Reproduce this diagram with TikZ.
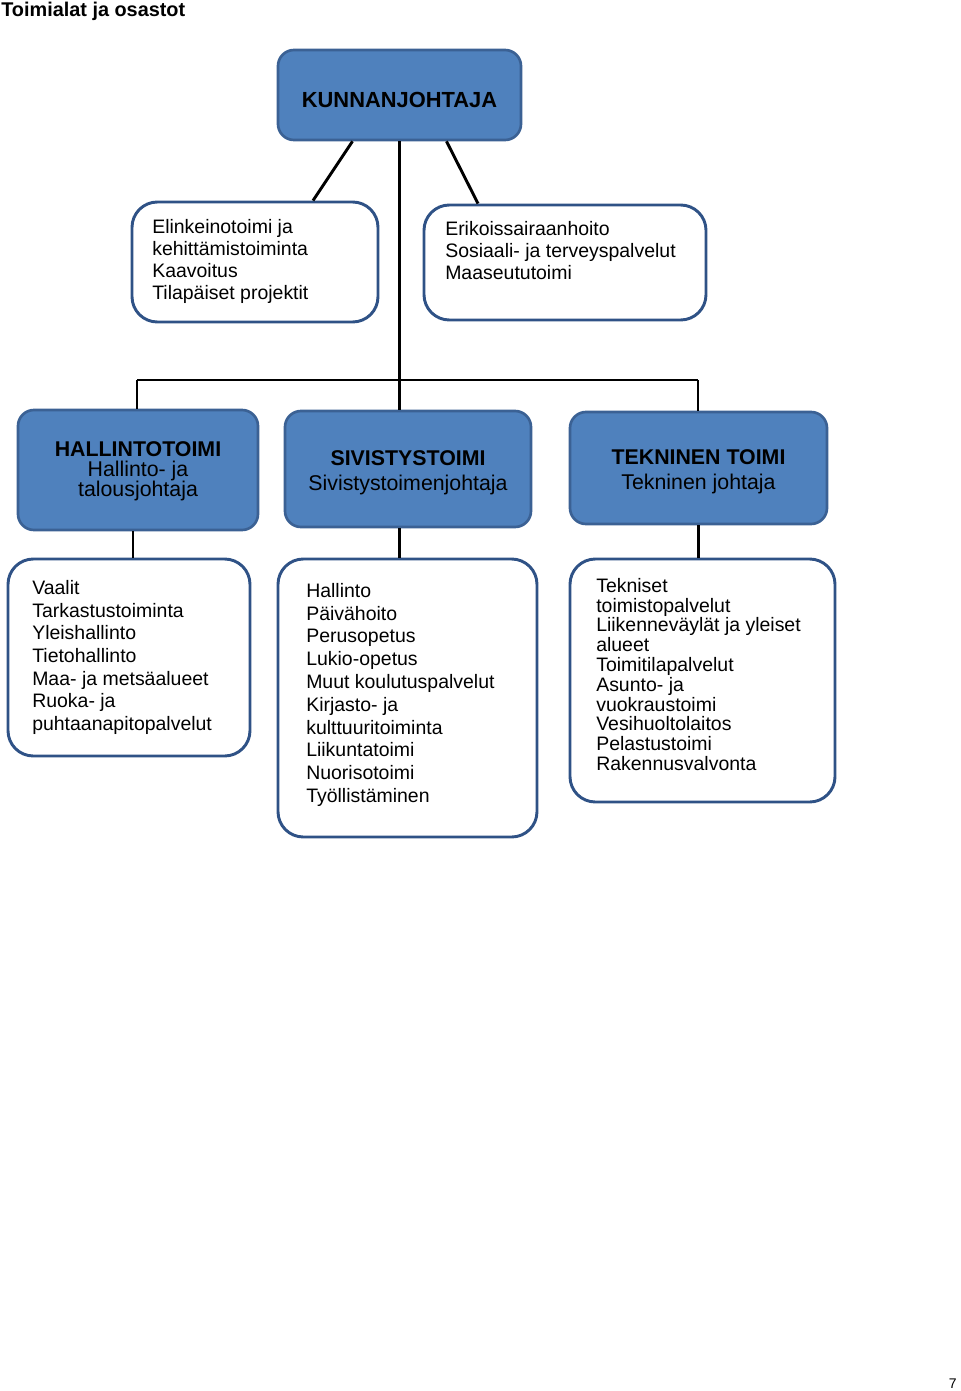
\documentclass[tikz,border=0pt]{standalone}
\usepackage{fontspec}
\setmainfont{Liberation Sans}
\usetikzlibrary{calc,fit}
\definecolor{boxblue}{HTML}{4F81BD}
\definecolor{boxedge}{HTML}{3B6194}
\definecolor{listedge}{HTML}{2F5286}

\begin{document}
\begin{tikzpicture}[x=0.75pt,y=-0.75pt,
    headbox/.style={draw=boxedge, fill=boxblue, line width=2pt, rounded corners=12pt, inner sep=0pt},
    headtext/.style={align=center, inner sep=0pt},
    listbox/.style={draw=listedge, fill=white, line width=2.2pt, rounded corners=19pt, inner sep=0pt},
    listtext/.style={anchor=north west, inner sep=0pt, align=left},
    conn/.style={line width=2.2pt}]
                \useasboundingbox (0,0) rectangle (960,1391);

                \node[anchor=west, inner sep=0pt, font=\fontsize{14.9}{17}\selectfont\bfseries] (title) at (1,11) {Toimialat ja osastot};
                \node[anchor=east, inner sep=0pt, font=\fontsize{10.5}{12}\selectfont] (pagenum) at (957,1384) {7};

                % ylin taso
                \node[headbox, fit={(278,50) (521,140)},
                    label={[headtext, font=\fontsize{16.4}{18}\selectfont\bfseries, yshift=-3.8pt]center:KUNNANJOHTAJA}] (kunnan) {};

                \node[listbox, fit={(132,202) (378,322)}] (elink) {};
                \node[listtext, font=\fontsize{14.6}{16.5}\selectfont] (elinktext) at (152,219)
                    {Elinkeinotoimi ja\\kehittämistoiminta\\Kaavoitus\\Tilapäiset projektit};
                \node[listbox, fit={(424,205) (706,320)}] (erikois) {};
                \node[listtext, font=\fontsize{14.6}{16.5}\selectfont] (erikoistext) at (445,221)
                    {Erikoissairaanhoito\\Sosiaali- ja terveyspalvelut\\Maaseututoimi};

                % toimialat
                \node[headbox, fit={(18,410) (258,530)},
                    label={[headtext, font=\fontsize{16}{15}\selectfont, yshift=-1pt]center:{\textbf{HALLINTOTOIMI}\\Hallinto- ja\\talousjohtaja}}] (hallinto) {};
                \node[headbox, fit={(285,411) (531,527)},
                    label={[headtext, font=\fontsize{16}{18.75}\selectfont, yshift=-3pt]center:{\textbf{SIVISTYSTOIMI}\\Sivistystoimenjohtaja}}] (sivistys) {};
                \node[headbox, fit={(570,412) (827,524)},
                    label={[headtext, font=\fontsize{16}{18.75}\selectfont, yshift=-3pt]center:{\textbf{TEKNINEN TOIMI}\\Tekninen johtaja}}] (tekninen) {};

                % osastot
                \node[listbox, fit={(8,559) (250,756)}] (vaalit) {};
                \node[listtext, font=\fontsize{14.6}{17}\selectfont] (vaalittext) at (32,580)
                    {Vaalit\\Tarkastustoiminta\\Yleishallinto\\Tietohallinto\\Maa- ja metsäalueet\\Ruoka- ja\\puhtaanapitopalvelut};
                \node[listbox, fit={(278,559) (537,837)}] (sivlist) {};
                \node[listtext, font=\fontsize{14.6}{17.1}\selectfont] (sivlisttext) at (306,583)
                    {Hallinto\\Päivähoito\\Perusopetus\\Lukio-opetus\\Muut koulutuspalvelut\\Kirjasto- ja\\kulttuuritoiminta\\Liikuntatoimi\\Nuorisotoimi\\Työllistäminen};
                \node[listbox, fit={(570,559) (835,802)}] (teklist) {};
                \node[listtext, font=\fontsize{14.6}{14.85}\selectfont] (teklisttext) at (596,578)
                    {Tekniset\\toimistopalvelut\\Liikenneväylät ja yleiset\\alueet\\Toimitilapalvelut\\Asunto- ja\\vuokraustoimi\\Vesihuoltolaitos\\Pelastustoimi\\Rakennusvalvonta};

                \coordinate (busL) at (137,380);
                \coordinate (busR) at (698,380);
                \coordinate (busM) at (401,380);

                \draw[conn] ($(kunnan.south)+(-47,0)$) -- ($(elink.north)+(58,0)$);
                \draw[conn] ($(kunnan.south)+(47,0)$) -- ($(erikois.north)+(-87,0)$);
                \draw[conn] (kunnan.south) -- (kunnan.south |- busM);
                \draw[conn] (busL) -- (busR);
                \draw[conn] (busL) -- (busL |- hallinto.north);
                \draw[conn] (kunnan.south |- busM) -- (kunnan.south |- sivistys.north);
                \draw[conn] (busR) -- (busR |- tekninen.north);

                \draw[conn] ($(hallinto.south)+(-5,0)$) -- ($(hallinto.south |- vaalit.north)+(-5,0)$);
                \draw[conn] (kunnan.south |- sivistys.south) -- (kunnan.south |- sivlist.north);
                \draw[conn] (tekninen.south) -- (tekninen.south |- teklist.north);

            \end{tikzpicture}
\end{document}
